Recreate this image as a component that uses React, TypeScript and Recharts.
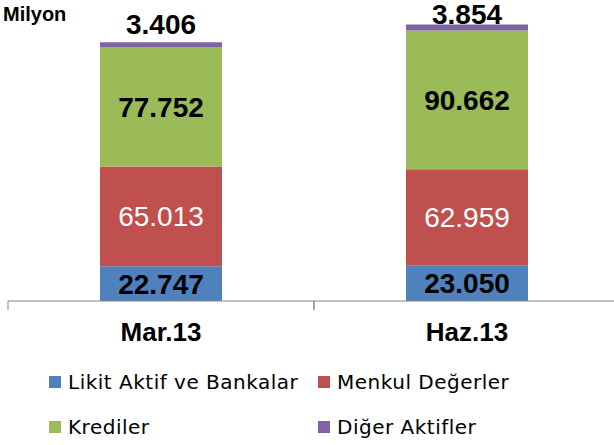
import React from "react";
import { BarChart, Bar, XAxis, YAxis, LabelList } from "recharts";

const categories = ["Mar.13", "Haz.13"];
const likit = [22747, 23050];
const menkul = [65013, 62959];
const krediler = [77752, 90662];
const diger = [3406, 3854];

const series = [
  { key: "likit", name: "Likit Aktif ve Bankalar", color: "#4F81BD" },
  { key: "menkul", name: "Menkul Değerler", color: "#C0504D" },
  { key: "krediler", name: "Krediler", color: "#9BBB59" },
  { key: "diger", name: "Diğer Aktifler", color: "#8064A2" },
];

const data = categories.map((name, i) => ({
  name,
  likit: likit[i],
  menkul: menkul[i],
  krediler: krediler[i],
  diger: diger[i],
}));

const fmt = (v: number) => String(v).replace(/\B(?=(\d{3})+(?!\d))/g, ".");

const NUM_FONT = "'Liberation Sans', Arial, sans-serif";

const centerLabel = (fill: string, weight: string) => (props: any) => {
  const { x, y, width, height, value } = props;
  return (
    <text
      x={x + width / 2}
      y={y + height / 2 + 10}
      textAnchor="middle"
      fill={fill}
      fontFamily={NUM_FONT}
      fontWeight={weight}
      fontSize={28}
    >
      {fmt(value)}
    </text>
  );
};

const topLabel = (props: any) => {
  const { x, y, width, value } = props;
  const base = Math.max(y - 8, 24);
  return (
    <text
      x={x + width / 2}
      y={base}
      textAnchor="middle"
      fill="#000"
      fontFamily={NUM_FONT}
      fontWeight="bold"
      fontSize={28}
    >
      {fmt(value)}
    </text>
  );
};

const CategoryTick = (props: any) => {
  const { x, y, payload } = props;
  const half = payload && payload.offset ? payload.offset : 153;
  return (
    <g>
      <line x1={x - half} y1={y - 8} x2={x - half} y2={y + 1} stroke="#868686" />
      <line x1={x + half} y1={y - 8} x2={x + half} y2={y + 1} stroke="#868686" />
      <text
        x={x}
        y={y + 32}
        textAnchor="middle"
        fill="#000"
        fontFamily={NUM_FONT}
        fontWeight="bold"
        fontSize={26}
      >
        {payload.value}
      </text>
    </g>
  );
};

export default function App() {
  return (
    <div
      style={{
        position: "absolute",
        left: 0,
        top: 0,
        width: 614,
        height: 445,
        overflow: "hidden",
        background: "#fff",
      }}
    >
      <div
        style={{
          position: "absolute",
          left: 3,
          top: 3,
          fontFamily: NUM_FONT,
          fontWeight: "bold",
          fontSize: 20,
        }}
      >
        Milyon
      </div>
      <BarChart
        width={620}
        height={445}
        data={data}
        margin={{ top: 10, right: 0, left: 8, bottom: 114 }}
        barSize={122}
      >
        <XAxis
          dataKey="name"
          height={30}
          axisLine={{ stroke: "#868686" }}
          tickLine={false}
          tick={<CategoryTick />}
          interval={0}
        />
        <YAxis hide domain={[0, 190000]} />
        <Bar dataKey="likit" stackId="a" fill={series[0].color} isAnimationActive={false}>
          <LabelList dataKey="likit" content={centerLabel("#000", "bold")} />
        </Bar>
        <Bar dataKey="menkul" stackId="a" fill={series[1].color} isAnimationActive={false}>
          <LabelList dataKey="menkul" content={centerLabel("#fff", "normal")} />
        </Bar>
        <Bar dataKey="krediler" stackId="a" fill={series[2].color} isAnimationActive={false}>
          <LabelList dataKey="krediler" content={centerLabel("#000", "bold")} />
        </Bar>
        <Bar dataKey="diger" stackId="a" fill={series[3].color} isAnimationActive={false}>
          <LabelList dataKey="diger" content={topLabel} />
        </Bar>
      </BarChart>
      <div
        style={{
          position: "absolute",
          left: 49,
          top: 368,
          display: "grid",
          gridTemplateColumns: "269px 280px",
          rowGap: 17,
          fontFamily: "'DejaVu Sans', sans-serif",
          fontSize: 20,
          letterSpacing: 0.5,
          color: "#000",
        }}
      >
        {series.map((s) => (
          <div key={s.key} style={{ display: "flex", alignItems: "center", height: 28, whiteSpace: "nowrap" }}>
            <span
              style={{
                display: "inline-block",
                width: 12,
                height: 12,
                background: s.color,
                marginRight: 7,
                flexShrink: 0,
              }}
            />
            {s.name}
          </div>
        ))}
      </div>
    </div>
  );
}
